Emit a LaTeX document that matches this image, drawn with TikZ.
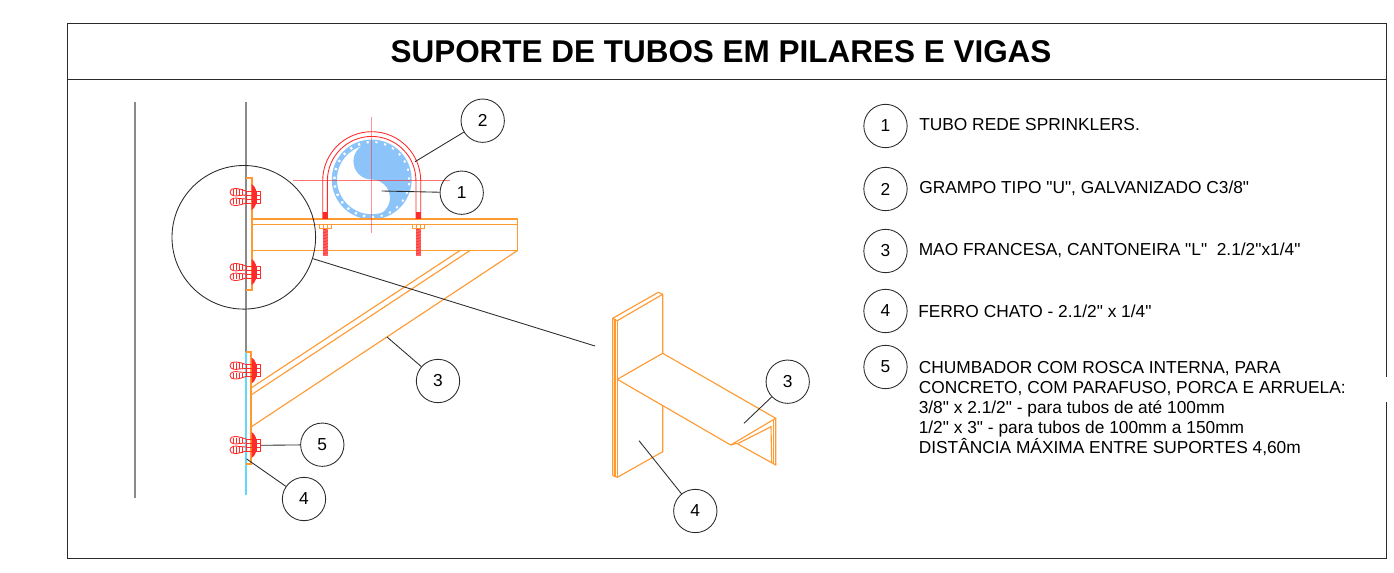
\documentclass[tikz,border=0pt]{standalone}
\usepackage{fontspec}
\setmainfont{Liberation Sans}[Ligatures=TeXOff]
\definecolor{steel}{HTML}{FF9A33}
\definecolor{bolt}{HTML}{FF2B2B}
\definecolor{pipe}{HTML}{8CC4FA}
\definecolor{wall}{HTML}{8A8A8A}
\definecolor{ink}{HTML}{2B2B2B}
\tikzset{
	steelline/.style={steel, line width=0.85pt},
	boltline/.style={bolt, line width=0.65pt},
	bubble/.style={circle, draw=ink, line width=0.65pt, minimum size=32.5pt, inner sep=0pt, font=\fontsize{13}{15}\selectfont},
	leader/.style={ink, line width=0.65pt},
	legendtext/.style={anchor=west, inner sep=0pt, font=\fontsize{13}{15}\selectfont}
}
\begin{document}
\begin{tikzpicture}[x=0.75pt, y=-0.75pt]
	\useasboundingbox (0,0) rectangle (1394,573);
	
	% frame
	\draw[ink, line width=0.7pt] (1386.5,377) -- (1386.5,23) -- (67,23) -- (67,558) -- (1386.5,558) -- (1386.5,402);
	\draw[ink, line width=0.7pt] (67,79) -- (1386.5,79);
	\node[inner sep=0pt, font=\fontsize{23.6}{28}\selectfont\bfseries] (title) at (721,52) {SUPORTE DE TUBOS EM PILARES E VIGAS};
	
	% walls
	\draw[wall, line width=1pt] (135,102) -- (135,498);
	\draw[wall, line width=1pt] (246,102) -- (246,352);
	\draw[pipe!70!cyan, line width=1pt] (246,352) -- (246,495);
	
	% pipe
	\draw[pipe, line width=3.9pt] (371.7,179.5) circle[radius=28pt];
	\draw[white, line width=1.8pt, dash pattern=on 1.6pt off 5pt] (371.7,179.5) circle[radius=28pt];
	\fill[pipe] (371.7,143) arc[start angle=90, end angle=270, radius=13.7pt]
		arc[start angle=90, end angle=-90, radius=13.7pt]
		arc[start angle=-90, end angle=90, radius=27.4pt];
	
	% plates and beam
	\draw[steelline] (246,178) -- (252,178) -- (252,290) -- (246,290);
	\draw[steelline] (246,352) -- (251,352) -- (251,464) -- (246,464);
	\draw[steelline] (252,219) rectangle (517.5,250.5);
	\draw[steelline] (252,224.5) -- (517.5,224.5);
	\draw[steelline] (517.5,250.5) -- (251,427);
	\draw[steelline] (470,250.5) -- (251,395);
	\draw[steelline] (460,250.5) -- (251,388);
	
	% U bolt
	\draw[boltline] (322.7,219) -- (322.7,180.7) arc[start angle=180, end angle=0, radius=36.75pt] -- (420.7,219);
	\draw[boltline] (327.4,219) -- (327.4,180.7) arc[start angle=180, end angle=0, radius=33.2pt] -- (416,219);
	\foreach \xa in {323,416}{
		\fill[bolt] (\xa,212) rectangle ++(4.6,7);
		\fill[bolt!75] (\xa,228) rectangle ++(4.6,28);
		\foreach \yb in {230,233,...,254}{
			\draw[bolt, line width=0.5pt] (\xa,\yb) -- ++(4.6,-1.5);
		}
		\draw[steelline, line width=0.55pt] (\xa-4,224.5) rectangle ++(12.6,4);
		\draw[steelline, line width=0.55pt] (\xa,224.5) -- ++(0,4) (\xa+4.6,224.5) -- ++(0,4);
	}
	
	% center lines
	\draw[bolt, opacity=0.65, line width=0.9pt] (293,180.7) -- (450,180.7);
	\draw[bolt, opacity=0.5, line width=1.1pt] (371.7,117) -- (371.7,233);
	
	% anchors
	\foreach \ya in {197,272,370.5,445}{
		\begin{scope}[shift={(246,\ya)}]
			\draw[boltline] (0,-2) -- (-7,-1.5) .. controls (-10,-0.5) and (-16,-1) .. (-16,-5) .. controls (-16,-10) and (-8,-9) .. (0,-6);
			\draw[boltline] (0,2) -- (-7,1.5) .. controls (-10,0.5) and (-16,1) .. (-16,5) .. controls (-16,10) and (-8,9) .. (0,6);
			\foreach \xb in {-13,-10,-7,-4}{
				\draw[boltline, line width=0.45pt] (\xb,-7.5) -- (\xb,-2);
				\draw[boltline, line width=0.45pt] (\xb,2) -- (\xb,7.5);
			}
			\draw[boltline] (0,-6) rectangle (14,6);
			\draw[boltline] (0,-2) -- (14,-2) (0,2) -- (14,2) (10,-6) -- (10,6);
			\fill[bolt] (5.5,-13) -- (8,-11) -- (10,-7) -- (10,7) -- (8,11) -- (5.5,13) -- cycle;
		\end{scope}
	}
	
	% isometric view
	\draw[steelline, line join=round] (612.7,475.7) -- (612.7,318.3) -- (658.3,292.3) -- (662.7,294.3) -- (662.7,353.3);
	\draw[steelline] (612.7,318.3) -- (617.3,320.7) -- (662.7,294.3);
	\draw[steelline] (617.3,320.7) -- (617.3,477.3);
	\draw[steelline] (615,319.5) -- (615,476.5);
	\draw[steelline] (662.7,405) -- (662.7,451.7) -- (617.3,477.3) -- (612.7,475.7);
	\draw[steelline, line join=round] (617.3,379.3) -- (662.7,353.3) -- (775.7,418.3) -- (730.7,445) -- cycle;
	\draw[steelline] (775.7,418.3) -- (775.7,465) -- (736.7,443.3) -- (730.7,445);
	\draw[steelline] (738.3,443.3) -- (771,426.7) -- (771.7,462.7);
	\draw[steelline] (773.7,420) -- (773.7,464);
	
	% detail circle
	\node[circle, draw=ink, line width=0.65pt, minimum size=107.7pt, inner sep=0pt] (detail) at (243.8,237.3) {};
	\coordinate (detailend) at (595,346);
	\draw[leader] (detail) -- (detailend);
	
	% bubbles on the drawing
	\node[bubble] (b2) at (482.7,120.7) {2};
	\node[bubble] (b1) at (461.7,192.7) {1};
	\node[bubble] (b3) at (438,381) {3};
	\node[bubble] (b5) at (322.3,444.7) {5};
	\node[bubble] (b4) at (304,499) {4};
	\node[bubble] (c3) at (787.7,381.7) {3};
	\node[bubble] (c4) at (695.3,511) {4};
	
	\coordinate (e2) at (415,161.7);
	\coordinate (e1) at (381.7,191);
	\coordinate (e3) at (387,337);
	\coordinate (e5) at (261,445.3);
	\coordinate (e4) at (246.7,459);
	\coordinate (f3) at (744,423.3);
	\coordinate (f4) at (639,440.7);
	\draw[leader] (b2) -- (e2);
	\draw[leader] (b1) -- (e1);
	\draw[leader] (b3) -- (e3);
	\draw[leader] (b5) -- (e5);
	\draw[leader] (b4) -- (e4);
	\draw[leader] (c3) -- (f3);
	\draw[leader] (c4) -- (f4);
	
	% legend
	\node[bubble] (k1) at (885.5,126) {1};
	\node[bubble] (k2) at (885.5,189) {2};
	\node[bubble] (k3) at (885.5,251) {3};
	\node[bubble] (k4) at (885.5,311) {4};
	\node[bubble] (k5) at (885.5,367) {5};
	\node[legendtext] (t1) at (919,125) {TUBO REDE SPRINKLERS.};
	\node[legendtext] (t2) at (919,188) {GRAMPO TIPO "U", GALVANIZADO C3/8"};
	\node[legendtext] (t3) at (918.5,250) {MAO FRANCESA, CANTONEIRA "L"\ \ 2.1/2"x1/4"};
	\node[legendtext] (t4) at (918,311) {FERRO CHATO - 2.1/2" x 1/4"};
	\node[legendtext, align=left] (t5) at (918.5,409) {CHUMBADOR COM ROSCA INTERNA, PARA\\CONCRETO, COM PARAFUSO, PORCA E ARRUELA:\\3/8" x 2.1/2" - para tubos de até 100mm\\1/2" x 3" - para tubos de 100mm a 150mm\\DISTÂNCIA MÁXIMA ENTRE SUPORTES 4,60m};
	
\end{tikzpicture}
\end{document}
